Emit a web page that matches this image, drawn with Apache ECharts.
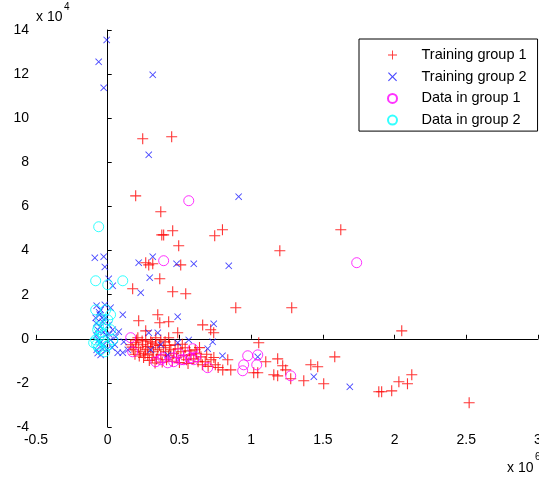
<!DOCTYPE html>
<html>
<head>
<meta charset="utf-8">
<script src="https://cdn.jsdelivr.net/npm/echarts@6/dist/echarts.min.js"></script>
<style>html,body{margin:0;padding:0;background:#fff;}#c{width:539px;height:481px;}</style>
</head>
<body>
<div id="c"></div>
<script>
// x in units of 10^6, y in units of 10^4
const seriesNames = ['Training group 1', 'Training group 2', 'Data in group 1', 'Data in group 2'];
const xTicks = [-0.5, 0, 0.5, 1, 1.5, 2, 2.5, 3];
const yTicks = [-4, -2, 0, 2, 4, 6, 8, 10, 12, 14];

const training1 = [
  [0.244,9.07],[0.446,9.16],[0.195,6.48],[0.37,5.76],[0.453,4.90],[0.377,4.71],[0.39,4.71],
  [0.495,4.22],[0.265,3.45],[0.286,3.35],[0.314,3.40],[0.509,3.35],[0.363,2.72],[0.174,2.27],
  [0.453,2.13],[0.544,2.04],[0.80,4.94],[0.746,4.67],[1.20,3.99],[1.625,4.94],[0.893,1.41],
  [1.283,1.41],[0.216,0.82],[0.349,1.09],[0.363,0.73],[0.425,0.77],[0.265,0.36],[0.488,0.27],
  [0.662,0.63],[0.718,0.41],[0.739,0.27],[1.053,-0.18],[1.583,-0.82],[0.837,-0.95],[1.185,-0.91],
  [1.102,-1.04],[1.22,-1.22],[1.241,-1.41],[1.416,-1.18],[1.464,-1.27],[0.802,-1.41],[0.858,-1.41],
  [1.018,-1.54],[1.046,-1.54],[1.185,-1.68],[1.276,-1.81],[1.367,-1.90],[1.506,-2.04],[1.89,-2.40],
  [2.05,0.36],[1.91,-2.40],[1.98,-2.36],[2.03,-1.95],[2.09,-2.04],[2.12,-1.63],[2.52,-2.90],
  [1.158,-1.63],[0.425,0.05],
  [0.16,-0.27],[0.18,-0.50],[0.195,-0.18],[0.216,-0.41],[0.23,-0.59],[0.244,-0.27],[0.265,-0.50],
  [0.279,-0.73],[0.30,-0.14],[0.30,-0.41],[0.32,-0.59],[0.335,-0.27],[0.349,-0.50],[0.37,-0.73],
  [0.39,-0.41],[0.404,-0.59],[0.425,-0.77],[0.44,-0.50],[0.46,-0.68],[0.48,-0.86],[0.51,-0.59],
  [0.53,-0.77],[0.55,-0.95],[0.58,-0.73],[0.60,-0.91],[0.63,-1.04],[0.65,-0.82],[0.68,-1.04],
  [0.72,-0.95],[0.75,-1.18],[0.21,0.05],[0.265,-0.05],[0.37,-0.05],[0.335,0.05],[0.40,-0.14],
  [0.47,-0.27],[0.54,-0.41],[0.61,-0.50],
  [0.17,-0.38],[0.19,-0.70],[0.22,-0.78],[0.25,-0.85],[0.28,-0.35],[0.31,-0.85],[0.34,-0.92],
  [0.36,-0.30],[0.41,-0.95],[0.45,-1.02],[0.50,-1.08],[0.56,-1.12],[0.62,-0.68],[0.66,-1.18],
  [0.70,-1.25],[0.26,-0.68],[0.29,-0.98],[0.33,-1.10],[0.38,-1.05],[0.43,-0.30],[0.49,-0.45],
  [0.52,-0.25],[0.57,-0.55],[0.64,-0.40],[0.69,-0.70],[0.74,-0.85],[0.77,-1.30],[0.20,-0.05],
  [0.24,-0.10],[0.31,-0.20]
];

const training2 = [
  [-0.007,13.55],[-0.063,12.56],[-0.028,11.38],[0.314,11.97],[0.286,8.34],[0.913,6.44],
  [-0.09,3.67],[-0.028,3.72],[-0.02,3.26],[0.216,3.45],[0.314,3.72],[0.48,3.40],[0.60,3.40],
  [0.844,3.31],[0.007,2.72],[0.035,2.40],[0.293,2.77],[0.23,2.09],[0.02,1.41],[-0.056,1.09],
  [0.105,1.09],[0.488,1.0],[0.077,0.32],[0.286,0.27],[0.349,0.27],[0.565,-0.05],[0.112,-0.14],
  [0.07,-0.63],[0.105,-0.63],[0.739,0.68],[0.732,-0.14],[0.697,-0.45],[0.80,-0.77],[1.046,-0.82],
  [1.437,-1.72],[1.688,-2.18],[0.418,-0.73],[0.488,-0.18],[0.14,-0.5],[0.30,-0.5],[0.37,-0.27],
  [-0.077,1.50],[-0.049,1.31],[-0.02,1.54],[-0.084,0.95],[-0.035,0.77],[0.007,0.63],[-0.07,0.41],
  [-0.014,0.18],[0.035,0.41],[-0.063,-0.05],[-0.028,-0.27],[0.021,-0.05],[-0.077,-0.50],
  [-0.007,-0.50],[0.049,-0.27],[-0.049,-0.73],[0.056,0.09],
  [-0.06,1.20],[-0.04,0.95],[-0.08,0.70],[-0.05,0.55],[-0.03,0.30],[-0.08,0.15],[-0.055,-0.20],
  [-0.035,-0.45],[-0.07,-0.65],[0.01,0.20],[0.03,-0.40],[-0.015,0.95]
];

const data1 = [
  [0.565,6.26],[0.39,3.54],[1.736,3.45],[0.16,0.05],[0.174,-0.59],[0.335,-1.04],[0.37,-0.95],
  [0.418,-1.09],[0.46,-0.86],[0.495,-0.68],[0.593,-0.45],[0.60,-0.95],[0.51,-0.95],[0.614,-0.82],
  [0.697,-1.31],[0.976,-0.77],[1.046,-0.73],[1.039,-1.18],[0.941,-1.45],[1.276,-1.68],[0.948,-1.18],
  [0.385,-0.86],[0.46,-1.04],[0.53,-0.95],[0.58,-0.86]
];

const data2 = [
  [-0.063,5.08],[-0.084,2.63],[0,2.45],[0.105,2.63],[0,0.86],[-0.07,0.41],[-0.084,-0.05],
  [-0.049,-0.50],[-0.063,0.54],[-0.014,1.31],[0.02,1.09],[-0.035,0.18],[0.007,-0.27],[-0.077,-0.27],
  [-0.02,0.63],[0.02,0.41],[-0.049,0.86],[-0.084,1.31],[0.035,-0.05],[-0.021,-0.59],[-0.098,-0.18],
  [-0.06,0.10],[-0.03,-0.10],[-0.065,-0.40],[-0.045,0.30],[-0.01,-0.35]
];

const plusPath = 'path://M4.5,0H5.5V4.5H10V5.5H5.5V10H4.5V5.5H0V4.5H4.5Z';
const crossPath = 'path://M0,0.9L0.9,0L5,4.1L9.1,0L10,0.9L5.9,5L10,9.1L9.1,10L5,5.9L0.9,10L0,9.1L4.1,5Z';

const FONT = '"Liberation Sans", Arial, Helvetica, sans-serif';
const chart = echarts.init(document.getElementById('c'), null, {renderer: 'canvas'});

chart.setOption({
  animation: false,
  backgroundColor: '#ffffff',
  grid: {left: 36, top: 30, right: 1, bottom: 54, containLabel: false, outerBoundsMode: 'none'},
  xAxis: {
    type: 'value', min: -0.5, max: 3, interval: 0.5,
    axisLine: {show: true, lineStyle: {color: '#000', width: 1}},
    axisTick: {show: true, inside: true, length: 4, lineStyle: {color: '#000'}},
    axisLabel: {color: '#000', fontSize: 14, fontFamily: FONT, margin: 6, hideOverlap: false,
      showMaxLabel: true, formatter: v => String(Math.round(v * 10) / 10)},
    splitLine: {show: false}
  },
  yAxis: {
    type: 'value', min: -4, max: 14, interval: 2,
    axisLine: {show: true, lineStyle: {color: '#000', width: 1}},
    axisTick: {show: true, inside: true, length: 4, lineStyle: {color: '#000'}},
    axisLabel: {color: '#000', fontSize: 14, fontFamily: FONT, margin: 7},
    splitLine: {show: false}
  },
  legend: {
    orient: 'vertical', left: 359, top: 39,
    padding: [8, 11, 3, 28],
    itemWidth: 48, itemHeight: 9, itemGap: 5.7,
    borderColor: '#000', borderWidth: 1, backgroundColor: '#fff',
    textStyle: {fontSize: 14.5, fontFamily: FONT, color: '#000', lineHeight: 16},
    data: seriesNames
  },
  series: [
    {name: seriesNames[0], type: 'scatter', data: training1, symbol: plusPath, symbolSize: 11,
      itemStyle: {color: '#ff0000'}, z: 2},
    {name: seriesNames[1], type: 'scatter', data: training2, symbol: crossPath, symbolSize: 7,
      itemStyle: {color: '#1a1aff'}, z: 3},
    {name: seriesNames[2], type: 'scatter', data: data1, symbol: 'circle', symbolSize: 10,
      itemStyle: {color: 'rgba(0,0,0,0)', borderColor: '#ff00ff', borderWidth: 1}, z: 4},
    {name: seriesNames[3], type: 'scatter', data: data2, symbol: 'circle', symbolSize: 10,
      itemStyle: {color: 'rgba(0,0,0,0)', borderColor: '#00ffff', borderWidth: 1}, z: 4}
  ],
  graphic: [
    {type: 'text', left: 36, top: 10, style: {text: 'x 10', fontSize: 14, fontFamily: FONT, fill: '#000'}},
    {type: 'text', left: 64, top: 2, style: {text: '4', fontSize: 10, fontFamily: FONT, fill: '#000'}},
    {type: 'text', left: 507, top: 461, style: {text: 'x 10', fontSize: 14, fontFamily: FONT, fill: '#000'}},
    {type: 'text', left: 535, top: 452, style: {text: '6', fontSize: 10, fontFamily: FONT, fill: '#000'}}
  ]
});
</script>
</body>
</html>
